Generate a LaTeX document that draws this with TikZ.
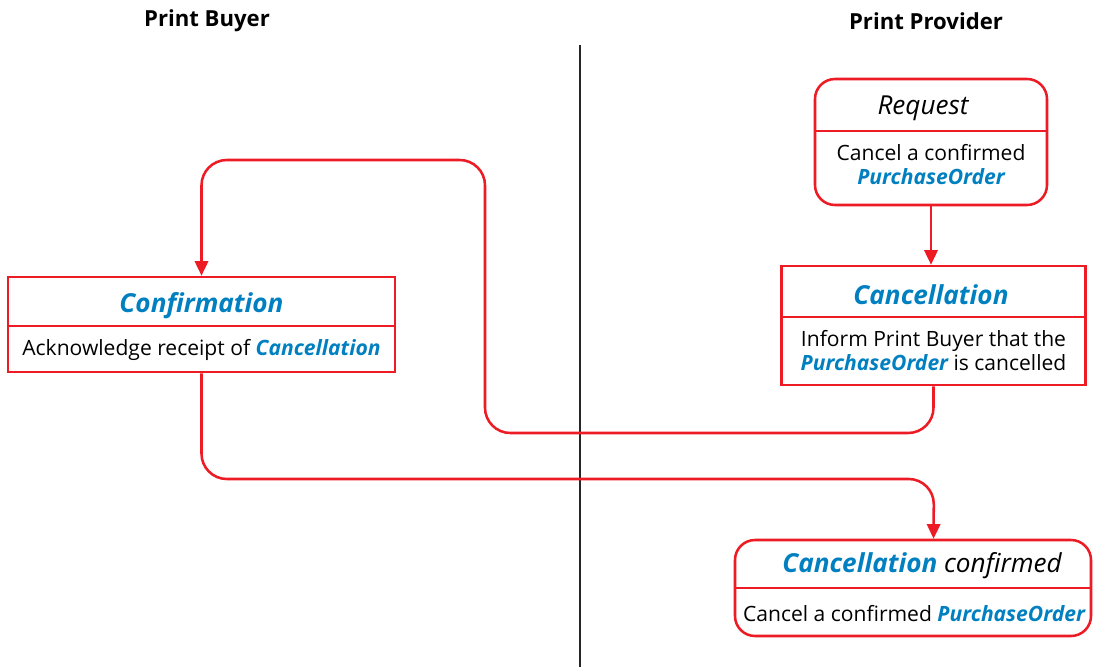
\documentclass[tikz,border=0pt]{standalone}
\usepackage{fontspec}
\setmainfont{Open Sans}
\usetikzlibrary{arrows.meta}
\definecolor{bred}{RGB}{237,28,36}
\definecolor{bblue}{RGB}{0,128,192}
\newcommand{\kw}[1]{{\bfseries\itshape\color{bblue}#1}}
\tikzset{
  box/.style={draw=bred, line width=1.9pt, fill=white, inner sep=0pt},
  rbox/.style={box, rounded corners=15pt},
  sep/.style={draw=bred, line width=1.9pt},
  conn/.style={draw=bred, line width=1.9pt, rounded corners=19pt, -{Triangle[length=11pt,width=10pt]}},
  ttl/.style={inner sep=0pt, font=\fontsize{19.6}{22}\selectfont},
  body/.style={inner sep=0pt, align=center, font=\fontsize{15.8}{18}\selectfont},
  hdr/.style={inner sep=0pt, font=\fontsize{16.6}{19}\selectfont\bfseries},
}
\begin{document}
\begin{tikzpicture}[x=0.75pt,y=-0.75pt]
\useasboundingbox (0,0) rectangle (1093,667);
% headers
\node[hdr] (hb) at (207,21) {Print Buyer};
\node[hdr] (hp) at (926,21) {Print Provider};
% divider
\draw[line width=2pt, black!85] (580,45) coordinate (dtop) -- (580,667) coordinate (dbot);
% boxes
\node[box, minimum width=228pt, minimum height=89.25pt] (canc) at (933.5,325.5) {};
\node[box, minimum width=290.25pt, minimum height=71.25pt] (conf) at (201.5,324.5) {};
\node[rbox, minimum width=267pt, minimum height=72pt] (ccf) at (913,588) {};
\node[rbox, minimum width=174pt, minimum height=94.5pt] (req) at (931,142) {};
% connectors
\draw[conn] (canc.south) |- (485,433) -- (485,160) -| (conf.north);
\draw[conn] (conf.south) |- (934,479) -- (ccf.north -| canc.south);
\draw[conn] (req.south) -- (canc.north -| req.south);
% separators
\draw[sep] (req.west |- 0,131) -- (req.east |- 0,131);
\draw[sep] (canc.west |- 0,317) -- (canc.east |- 0,317);
\draw[sep] (conf.west |- 0,326) -- (conf.east |- 0,326);
\draw[sep] (ccf.west |- 0,588) -- (ccf.east |- 0,588);
% texts
\node[ttl] (reqt) at (923,108) {\itshape Request};
\node[body] (reqb) at (931,165) {Cancel a confirmed\\\kw{PurchaseOrder}};
\node[ttl] (canct) at (931,295) {\kw{Cancellation}};
\node[body] (cancb) at (933.5,351) {Inform Print Buyer that the\\\kw{PurchaseOrder} is cancelled};
\node[ttl] (conft) at (201.5,306) {\kw{Confirmation}};
\node[body] (confb) at (201.5,350) {Acknowledge receipt of \kw{Cancellation}};
\node[ttl] (ccft) at (922,566) {\kw{Cancellation} \itshape confirmed};
\node[body] (ccfb) at (914,614) {Cancel a confirmed \kw{PurchaseOrder}};
\end{tikzpicture}
\end{document}
